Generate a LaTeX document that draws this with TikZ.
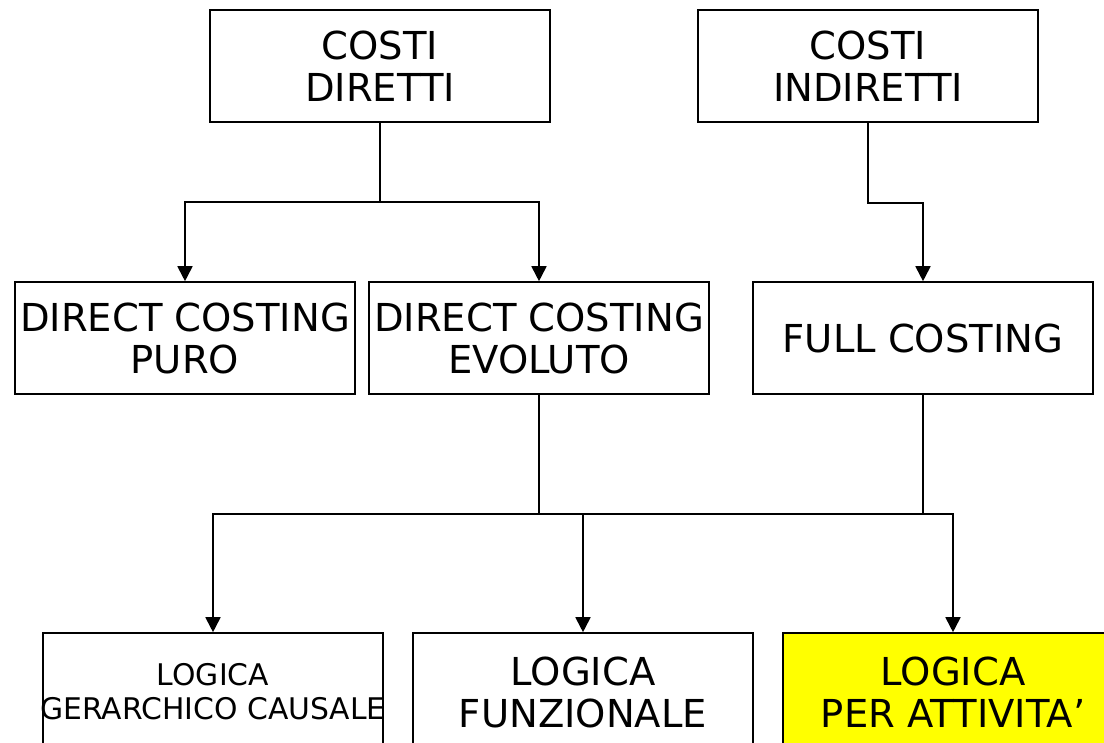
\documentclass[tikz,border=0pt]{standalone}
\usepackage{fontspec}
\setmainfont{DejaVu Sans}
\usetikzlibrary{arrows.meta}
\definecolor{hiyellow}{RGB}{255,255,0}
\begin{document}
\begin{tikzpicture}[x=1pt,y=-1pt,
  box/.style={draw=black,line width=1.6pt,minimum width=340pt,minimum height=112pt,inner sep=0pt,align=center,font=\fontsize{38.5}{42}\selectfont},
  lowbox/.style={box,minimum height=118pt},
  smallbox/.style={lowbox,font=\fontsize{29.8}{34}\selectfont},
  conn/.style={line width=1.8pt},
  arrow/.style={conn,-{Triangle[width=15pt,length=15pt]}}]
\clip (0,0) rectangle (1104,743);
\useasboundingbox (0,0) rectangle (1104,743);
\fill[white] (0,0) rectangle (1104,743);
\node[box] (cd) at (380,66) {COSTI\\DIRETTI};
\node[box] (ci) at (868,66) {COSTI\\INDIRETTI};
\node[box] (dcp) at (185,338) {DIRECT COSTING\\PURO};
\node[box] (dce) at (539,338) {DIRECT COSTING\\EVOLUTO};
\node[box] (fc) at (923,338) {FULL COSTING};
\node[smallbox] (lgc) at (213,692) {LOGICA\\\makebox[330pt][c]{GERARCHICO CAUSALE}};
\node[lowbox] (lf) at (583,692) {LOGICA\\FUNZIONALE};
\node[lowbox,fill=hiyellow] (lpa) at (953,692) {LOGICA\\PER ATTIVITA’};
\coordinate (j1) at (380,202);
\coordinate (j2) at (539,514);
\coordinate (j3) at (923,514);
\draw[conn] (cd.south) -- (j1);
\draw[arrow] (j1) -| (dcp.north);
\draw[arrow] (j1) -| (dce.north);
\draw[arrow] (ci.south) -- ++(0,80) -| (fc.north);
\draw[conn] (dce.south) -- (j2);
\draw[conn] (fc.south) -- (j3);
\draw[conn] (j2) -- (j3);
\draw[arrow] (j2) -| (lgc.north);
\draw[arrow] (j2) -| (lf.north);
\draw[arrow] (j3) -| (lpa.north);
\end{tikzpicture}
\end{document}
